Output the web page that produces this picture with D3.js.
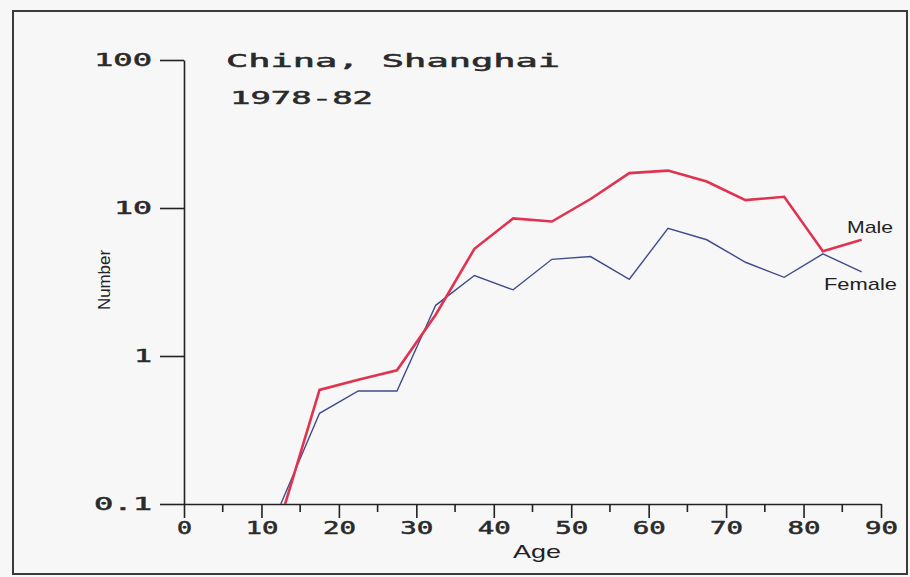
<!DOCTYPE html>
<html>
<head>
<meta charset="utf-8">
<script src="https://cdn.jsdelivr.net/npm/d3@7"></script>
<style>
body { margin: 0; background-color: #f7f7f7; }
</style>
</head>
<body>
<div id="divcont"></div>
<script>
// ages are the mid points of the 5 year groups
var ages = [12.5, 17.5, 22.5, 27.5, 32.5, 37.5, 42.5, 47.5, 52.5, 57.5, 62.5, 67.5, 72.5, 77.5, 82.5, 87.5]
var male = [0.08, 0.59, 0.69, 0.80, 1.9, 5.3, 8.5, 8.1, 11.5, 17.2, 17.9, 15.1, 11.3, 11.9, 5.1, 6.1]
var female = [0.1, 0.41, 0.58, 0.58, 2.2, 3.5, 2.8, 4.5, 4.7, 3.3, 7.3, 6.1, 4.3, 3.4, 4.9, 3.7]
var yTicks = [0.1, 1, 10, 100]
var yTickLabels = ["0.1", "1", "10", "100"]
var xTicks = [0, 10, 20, 30, 40, 50, 60, 70, 80, 90]
var xMinor = [5, 15, 25, 35, 45, 55, 65, 75, 85]

var wd = 910
var ht = 577
var x0 = 184, x1 = 881 // plot left / right
var yTop = 60, yBot = 504

var svg = d3.select("#divcont")
  .append("svg")
  .attr("width", wd)
  .attr("height", ht)

svg.append("rect")
  .attr("x", 13).attr("y", 11)
  .attr("width", 894).attr("height", 563)
  .attr("fill", "#f7f7f7")
  .attr("stroke", "#3a3a3a")
  .attr("stroke-width", 2)

var xScale = d3.scaleLinear()
  .domain([0, 90])
  .range([x0, x1])

var yScale = d3.scaleLog()
  .domain([0.1, 100])
  .range([yBot, yTop])

var plotFont = "'DejaVu Sans Mono', monospace"

// plotter style text: regular mono with a thin stroke
function plotText(sel) {
  sel.style("font-family", plotFont)
    .style("font-size", "17px")
    .attr("fill", "#2a2a2a")
    .attr("stroke", "#2a2a2a")
    .attr("stroke-width", 0.5)
    .attr("lengthAdjust", "spacingAndGlyphs")
}

// x axis
var xAxis = d3.axisBottom(xScale)
  .tickValues(xTicks)
  .tickSize(14)
  .tickSizeOuter(0)
  .tickPadding(4)
  .tickFormat(d3.format("d"))

var xAx = svg.append("g")
  .attr("transform", "translate(0," + yBot + ")")
  .call(xAxis)
xAx.selectAll("text")
  .call(plotText)
  .attr("textLength", function(d) { return String(d).length * 18 - 3 })

svg.append("g").selectAll("line")
  .data(xMinor)
  .enter()
  .append("line")
  .attr("x1", function(d) { return xScale(d) })
  .attr("x2", function(d) { return xScale(d) })
  .attr("y1", yBot)
  .attr("y2", yBot + 8)
  .attr("stroke", "#222")
  .attr("stroke-width", 1.6)

// y axis
var yAxis = d3.axisLeft(yScale)
  .tickValues(yTicks)
  .tickSize(24)
  .tickSizeOuter(0)
  .tickPadding(8)
  .tickFormat(function(d, i) { return yTickLabels[i] })

var yAx = svg.append("g")
  .attr("transform", "translate(" + x0 + ",0)")
  .call(yAxis)
yAx.selectAll("text")
  .call(plotText)
  .attr("textLength", function(d, i) { return yTickLabels[i].length * 20 - 2 })

svg.selectAll(".domain").attr("stroke", "#222").attr("stroke-width", 1.6)
svg.selectAll(".tick line").attr("stroke", "#222").attr("stroke-width", 1.6)

// lines, clipped at the bottom axis
svg.append("clipPath")
  .attr("id", "plotclip")
  .append("rect")
  .attr("x", x0).attr("y", yTop)
  .attr("width", x1 - x0).attr("height", yBot - yTop)

var line = d3.line()
  .x(function(d) { return xScale(d[0]) })
  .y(function(d) { return yScale(d[1]) })

svg.append("path")
  .datum(d3.zip(ages, female))
  .attr("clip-path", "url(#plotclip)")
  .attr("d", line)
  .attr("fill", "none")
  .attr("stroke", "#3f4c8c")
  .attr("stroke-width", 1.4)

svg.append("path")
  .datum(d3.zip(ages, male))
  .attr("clip-path", "url(#plotclip)")
  .attr("d", line)
  .attr("fill", "none")
  .attr("stroke", "#e0334f")
  .attr("stroke-width", 2.6)

// titles
svg.append("text")
  .attr("x", 226).attr("y", 67)
  .text("China, Shanghai")
  .call(plotText)
  .attr("textLength", 334)

svg.append("text")
  .attr("x", 230).attr("y", 104)
  .text("1978-82")
  .call(plotText)
  .attr("textLength", 143)

svg.append("text")
  .attr("x", 537).attr("y", 558)
  .attr("text-anchor", "middle")
  .text("Age")
  .style("font-family", "'Liberation Sans', Arial, sans-serif")
  .style("font-size", "19px")
  .attr("fill", "#222")
  .attr("textLength", 48)
  .attr("lengthAdjust", "spacingAndGlyphs")

svg.append("text")
  .attr("transform", "translate(110,280) rotate(-90)")
  .attr("text-anchor", "middle")
  .text("Number")
  .style("font-family", "'Liberation Sans', Arial, sans-serif")
  .style("font-size", "17px")
  .attr("fill", "#222")
  .attr("textLength", 60)
  .attr("lengthAdjust", "spacingAndGlyphs")

// series labels
svg.append("text")
  .attr("x", 847).attr("y", 233)
  .text("Male")
  .style("font-family", "'Liberation Sans', Arial, sans-serif")
  .style("font-size", "17px")
  .attr("fill", "#222")
  .attr("textLength", 46)
  .attr("lengthAdjust", "spacingAndGlyphs")

svg.append("text")
  .attr("x", 824).attr("y", 290)
  .text("Female")
  .style("font-family", "'Liberation Sans', Arial, sans-serif")
  .style("font-size", "17px")
  .attr("fill", "#222")
  .attr("textLength", 73)
  .attr("lengthAdjust", "spacingAndGlyphs")
</script>
</body>
</html>
